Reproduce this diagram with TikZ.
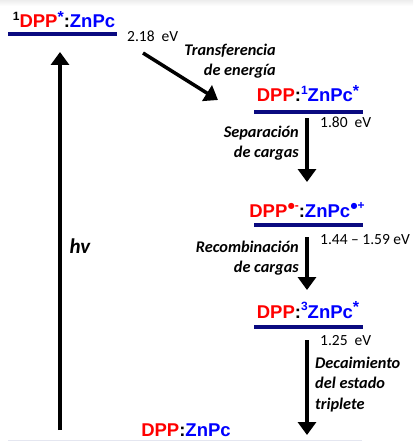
\documentclass[tikz,border=0pt]{standalone}
\usepackage{fontspec}
\setmainfont{Liberation Sans}
\newfontfamily\calfont{Carlito}
\newfontfamily\dejavu{DejaVu Sans}
\usetikzlibrary{arrows.meta}
\definecolor{dred}{RGB}{255,0,0}
\definecolor{dblue}{RGB}{0,0,255}
\definecolor{lvl}{RGB}{10,10,128}
\definecolor{faint}{RGB}{228,230,240}
\tikzset{
  lvlline/.style={draw=lvl, line width=3.5pt},
  species/.style={font=\fontsize{18.5}{20}\selectfont\bfseries, inner sep=0pt, anchor=base},
  energy/.style={font=\calfont\fontsize{15.5}{16}\selectfont, inner sep=0pt, anchor=base west},
  proc/.style={font=\calfont\bfseries\itshape\fontsize{16.3}{20}\selectfont, inner sep=0pt},
  bigarrow/.style={line width=3.5pt, -{Triangle[width=18pt,length=13pt]}}
}
\newcommand{\R}[1]{\textcolor{dred}{#1}}
\newcommand{\B}[1]{\textcolor{dblue}{#1}}
\newcommand{\sups}[1]{\raisebox{0.42em}{\fontsize{12}{12}\selectfont #1}}
\newcommand{\exstar}{\raisebox{0.3em}{\fontsize{16}{16}\selectfont *}}
\newcommand{\rad}{\raisebox{8.5pt}{\dejavu\fontsize{8}{8}\selectfont ●}}
\newcommand{\chg}[1]{\raisebox{0.42em}{\fontsize{12}{12}\selectfont #1}}
\begin{document}
\begin{tikzpicture}[x=1pt,y=-1pt]
\useasboundingbox (0,0) rectangle (413,441);
\shade[top color=gray!14, bottom color=white] (0,0) rectangle (413,6);
\draw[faint, line width=1pt] (8,440) -- (362,440);

% levels
\coordinate (l1a) at (8,34);  \coordinate (l1b) at (117,34);
\coordinate (l2a) at (254,112); \coordinate (l2b) at (363,112);
\coordinate (l3a) at (254,225); \coordinate (l3b) at (363,225);
\coordinate (l4a) at (254,327); \coordinate (l4b) at (363,327);
\draw[lvlline] (l1a) -- (l1b);
\draw[lvlline] (l2a) -- (l2b);
\draw[lvlline] (l3a) -- (l3b);
\draw[lvlline] (l4a) -- (l4b);

% species labels
\node[species] (s1) at (64,28) {\sups{1}\R{DPP}\B{\exstar}:\B{ZnPc}};
\node[species] (s2) at (308,102) {\R{DPP}:\B{\sups{1}ZnPc\exstar}};
\node[species] (s3) at (307,217) {\R{DPP\hspace{0.5pt}\rad\chg{-}}:\B{ZnPc\hspace{0.5pt}\rad\chg{+}}};
\node[species] (s4) at (308,318) {\R{DPP}:\B{\sups{3}ZnPc\exstar}};
\node[species] (s0) at (186,436) {\R{DPP}:\B{ZnPc}};

% energies
\node[energy] (e1) at (127,42) {2.18\hspace{0.45em}eV};
\node[energy] (e2) at (320,128) {1.80\hspace{0.45em}eV};
\node[energy] (e3) at (320,244) {1.44 – 1.59 eV};
\node[energy] (e4) at (320,345) {1.25\hspace{0.45em}eV};

% arrows
\coordinate (hvA) at (60,430); \coordinate (hvB) at (60,52);
\draw[bigarrow] (hvA) -- (hvB);
\node[font=\calfont\bfseries\itshape\fontsize{21}{24}\selectfont, inner sep=0pt, anchor=base] (hv) at (80,253) {hv};

\coordinate (tA) at (143,53); \coordinate (tB) at (218,100);
\draw[bigarrow] (tA) -- (tB);
\node[proc, anchor=base east] (t1) at (276,56) {Transferencia};
\node[proc, anchor=base east] (t2) at (276,76) {de energía};

\coordinate (a2a) at (307,118); \coordinate (a2b) at (307,182);
\draw[bigarrow] (a2a) -- (a2b);
\node[proc, anchor=base east] (p1) at (299,137) {Separación};
\node[proc, anchor=base east] (p2) at (299,157) {de cargas};

\coordinate (a3a) at (307,237); \coordinate (a3b) at (307,290);
\draw[bigarrow] (a3a) -- (a3b);
\node[proc, anchor=base east] (r1) at (299,252) {Recombinación};
\node[proc, anchor=base east] (r2) at (299,272) {de cargas};

\coordinate (a4a) at (307,340); \coordinate (a4b) at (307,435);
\draw[bigarrow] (a4a) -- (a4b);
\node[proc, anchor=base west] (d1) at (315,368) {Decaimiento};
\node[proc, anchor=base west] (d2) at (315,388) {del estado};
\node[proc, anchor=base west] (d3) at (315,409) {triplete};
\end{tikzpicture}
\end{document}
